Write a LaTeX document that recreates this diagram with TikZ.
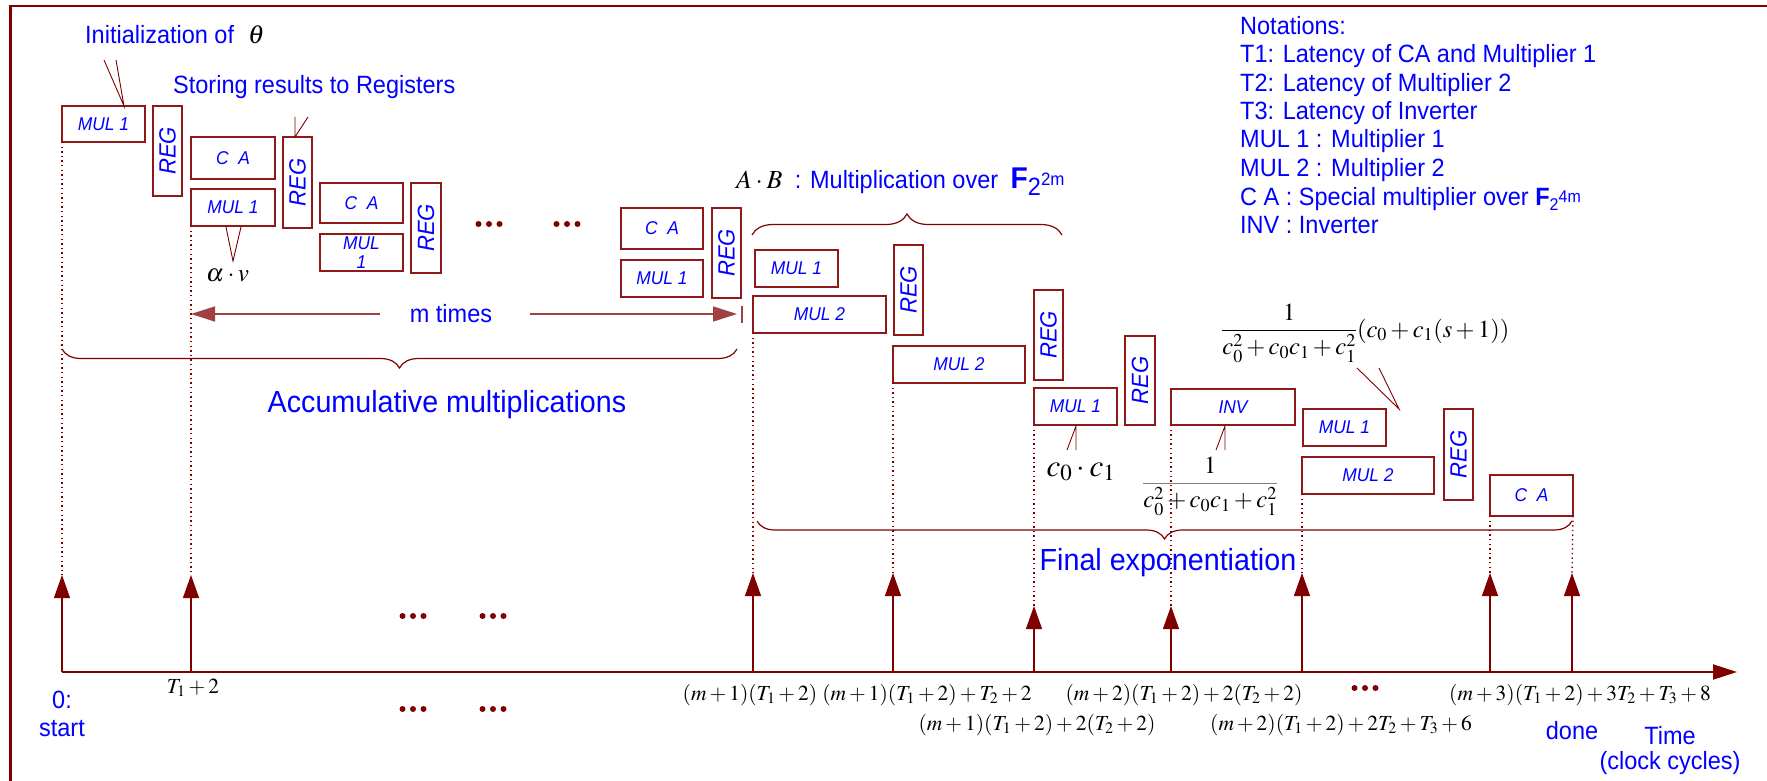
\documentclass[tikz,border=0pt]{standalone}
\usepackage{mathptmx}
\usepackage[no-math]{fontspec}
\setmainfont{Liberation Sans}[FakeStretch=0.94]
\usetikzlibrary{arrows.meta,decorations.pathreplacing}
\definecolor{mar}{RGB}{128,0,0}
\definecolor{tb}{RGB}{0,0,255}
\newcommand{\fsz}[1]{\fontsize{#1}{#1}\selectfont}
\begin{document}
\begin{tikzpicture}[x=1pt,y=-1pt,
  bx/.style={draw=mar!90, line width=1.1pt, inner sep=0pt, outer sep=0pt, anchor=north west, text=tb, font={\itshape\fsz{18.5}}},
  regbox/.style={bx, minimum width=29, minimum height=90},
  txt/.style={text=tb, inner sep=0pt, font={\fsz{25}}},
  big/.style={text=tb, inner sep=0pt, font={\fsz{30.5}}},
  mth/.style={text=black, inner sep=0pt, font={\fsz{21.5}}},
  arr/.style={draw=mar, line width=1.2pt, -{Triangle[length=23pt,width=16pt]}},
  dotl/.style={draw=mar, line width=1.3pt, dash pattern=on 1.4pt off 3.2pt},
  call/.style={draw=mar, line width=0.9pt},
  brc/.style={draw=mar, line width=1.2pt, decorate},
]
\useasboundingbox (0,0) rectangle (1767,781);
\clip (0,0) rectangle (1767,781);
\fill[white] (0,0) rectangle (1767,781);
% frame
\draw[mar, line width=2.2pt] (10.5,820) -- (10.5,6) -- (1800,6);

% boxes
\node[bx, minimum width=83, minimum height=36] (a1) at (62,106) {MUL 1};
\node[regbox] (r1) at (153,106) {\rotatebox{90}{\fsz{23.5}REG}};
\node[bx, minimum width=84, minimum height=42] (b1) at (191,137) {C\ \ A};
\node[bx, minimum width=84, minimum height=37] (b2) at (191,189) {MUL 1};
\node[regbox, minimum height=91] (r2) at (283,137) {\rotatebox{90}{\fsz{23.5}REG}};
\node[bx, minimum width=83, minimum height=40] (c1) at (320,183) {C\ \ A};
\node[bx, minimum width=83, minimum height=37, align=center, font={\itshape\fsz{18.5}\baselineskip=19pt}] (c2) at (320,234) {MUL\\1};
\node[regbox, minimum width=30] (r3) at (411,183) {\rotatebox{90}{\fsz{23.5}REG}};
\node[bx, minimum width=82, minimum height=41] (d1) at (621,208) {C\ \ A};
\node[bx, minimum width=82, minimum height=37] (d2) at (621,260) {MUL 1};
\node[regbox] (r4) at (712,208) {\rotatebox{90}{\fsz{23.5}REG}};
\node[bx, minimum width=83, minimum height=37] (e1) at (755,250) {MUL 1};
\node[bx, minimum width=133, minimum height=37] (e2) at (753,296) {MUL 2};
\node[regbox] (r5) at (894,245) {\rotatebox{90}{\fsz{23.5}REG}};
\node[bx, minimum width=132, minimum height=37] (f1) at (893,346) {MUL 2};
\node[regbox] (r6) at (1034,290) {\rotatebox{90}{\fsz{23.5}REG}};
\node[bx, minimum width=83, minimum height=37] (g1) at (1034,388) {MUL 1};
\node[regbox, minimum width=30, minimum height=89] (r7) at (1125,336) {\rotatebox{90}{\fsz{23.5}REG}};
\node[bx, minimum width=124, minimum height=36] (h1) at (1171,389) {INV};
\node[bx, minimum width=83, minimum height=37] (i1) at (1303,409) {MUL 1};
\node[bx, minimum width=132, minimum height=37] (i2) at (1302,457) {MUL 2};
\node[regbox, minimum height=91] (r8) at (1444,409) {\rotatebox{90}{\fsz{23.5}REG}};
\node[bx, minimum width=83, minimum height=41] (j1) at (1490,475) {C\ \ A};

% texts
\node[txt, anchor=west] (init) at (85,35) {Initialization of\hspace{14pt}{\color{black}\fsz{26}$\theta$}};
\node[txt, anchor=west] (stor) at (173,87) {Storing results to Registers};
\node[mth, anchor=west, font={\fsz{25}}] (av) at (206,276) {$\alpha\cdot v$};
\node[txt, anchor=west] (ab) at (736,182) {{\color{black}\fsz{26}$A\cdot B$}\enspace: Multiplication over\enspace{\fsz{30}\bfseries F}\raisebox{-7pt}{2}\raisebox{3pt}{\fsz{18}2m}};
\node[txt] (mt) at (451,314) {m times};
\node[big] (acc) at (447,405) {Accumulative multiplications};
\node[big] (fin) at (1168,563) {Final exponentiation};
\node[mth, font={\fsz{31}}] (cc) at (1081,472) {$c_0\cdot c_1$};
\node[mth, anchor=base west, font={\fsz{24.5}}] (fr1) at (1142,490) {$\color{gray}\displaystyle\frac{\color{black}1}{\color{black}c_0^2+c_0c_1+c_1^2}$};
\node[mth, anchor=base west, font={\fsz{24.5}}] (fr2) at (1221,337) {$\displaystyle\frac{1}{c_0^2+c_0c_1+c_1^2}(c_0+c_1(s+1))$};

% notations
\node[txt, anchor=base west] (n1) at (1240,34.5) {Notations:};
\node[txt, anchor=base west] (n2) at (1240,63) {T1: Latency of CA and Multiplier 1};
\node[txt, anchor=base west] (n3) at (1240,91.5) {T2: Latency of Multiplier 2};
\node[txt, anchor=base west] (n4) at (1240,119.5) {T3: Latency of Inverter};
\node[txt, anchor=base west] (n5) at (1240,148) {MUL 1 : Multiplier 1};
\node[txt, anchor=base west] (n6) at (1240,176.5) {MUL 2 : Multiplier 2};
\node[txt, anchor=base west] (n7) at (1240,205) {C A : Special multiplier over \textbf{F}\raisebox{-5pt}{\fsz{17}2}\raisebox{3pt}{\fsz{17}4m}};
\node[txt, anchor=base west] (n8) at (1240,233.5) {INV : Inverter};

% callout wedges
\draw[call] (104,60) -- (124,106) -- (116,60);
\draw[call] (295,117) -- (295,137) -- (308,117);
\draw[call] (226,227) -- (233,261) -- (241,227);
\draw[call] (1067,450) -- (1076,426) -- (1076,450);
\draw[call] (1216,450) -- (1225,426) -- (1225,450);
\draw[call] (1357,368) -- (1399,409) -- (1379,368);

% braces
\draw[brc, decoration={brace, mirror, amplitude=19pt}] (62,349) -- (737,349);
\draw[brc, decoration={brace, amplitude=21pt}] (752,235) -- (1062,235);
\draw[brc, decoration={brace, mirror, amplitude=18pt}] (757,521) -- (1572,521);

% m times arrow
\coordinate (ml) at (380,314);
\coordinate (mr) at (530,314);
\coordinate (mtl) at (191,314);
\coordinate (mtr) at (737,314);
\coordinate (tk1) at (742,306);
\coordinate (tk2) at (742,323);
\draw[draw=mar!75, line width=1.5pt, -{Triangle[length=24pt,width=15pt]}] (ml) -- (mtl);
\draw[draw=mar!75, line width=1.5pt, -{Triangle[length=24pt,width=15pt]}] (mr) -- (mtr);
\draw[draw=mar!75, line width=1.2pt] (tk1) -- (tk2);

% time axis
\coordinate (ax0) at (62,672);
\coordinate (ax1) at (1737,672);
\draw[draw=mar, line width=2pt, -{Triangle[length=24pt,width=15pt]}] (ax0) -- (ax1);

% arrows and dotted guides
\foreach \n/\x/\t in {p0/62/575, p1/191/575, p2/753/573, p3/893/573, p4/1034/606, p5/1171/606, p6/1302/573, p7/1490/573, p8/1572/573}{
  \coordinate (\n b) at (\x,672);
  \coordinate (\n t) at (\x,\t);
  \draw[arr] (\n b) -- (\n t);
}
\draw[dotl] (a1.south west) -- (p0t);
\draw[dotl] (b2.south west) -- (p1t);
\draw[dotl] (e2.south west) -- (p2t);
\draw[dotl] (f1.south west) -- (p3t);
\draw[dotl] (g1.south west) -- (p4t);
\draw[dotl] (h1.south west) -- (p5t);
\draw[dotl] (i2.south west) -- (p6t);
\draw[dotl] (j1.south west) -- (p7t);
\draw[dotl] (j1.south east) -- (p8t);

% ellipsis dots
\foreach \cx/\cy in {489/224, 567/224, 413/616, 493/616, 413/709, 493/709, 1365/688}{
  \fill[mar] (\cx-10.5,\cy) circle (3);
  \fill[mar] (\cx,\cy) circle (3);
  \fill[mar] (\cx+10.5,\cy) circle (3);
}

% axis labels
\node[txt] (l0a) at (62,700) {0:};
\node[txt] (l0b) at (62,729) {start};
\node[mth] (l1) at (193,688) {$T_1+2$};
\node[mth] (l2) at (750,695) {$(m+1)(T_1+2)$};
\node[mth] (l3) at (927,695) {$(m+1)(T_1+2)+T_2+2$};
\node[mth] (l4) at (1184,695) {$(m+2)(T_1+2)+2(T_2+2)$};
\node[mth] (l5) at (1580,695) {$(m+3)(T_1+2)+3T_2+T_3+8$};
\node[mth] (l6) at (1037,725) {$(m+1)(T_1+2)+2(T_2+2)$};
\node[mth] (l7) at (1341,725) {$(m+2)(T_1+2)+2T_2+T_3+6$};
\node[txt] (dn) at (1572,731) {done};
\node[txt] (tm) at (1670,736) {Time};
\node[txt] (cl) at (1670,763) {(clock cycles)};
\end{tikzpicture}
\end{document}
